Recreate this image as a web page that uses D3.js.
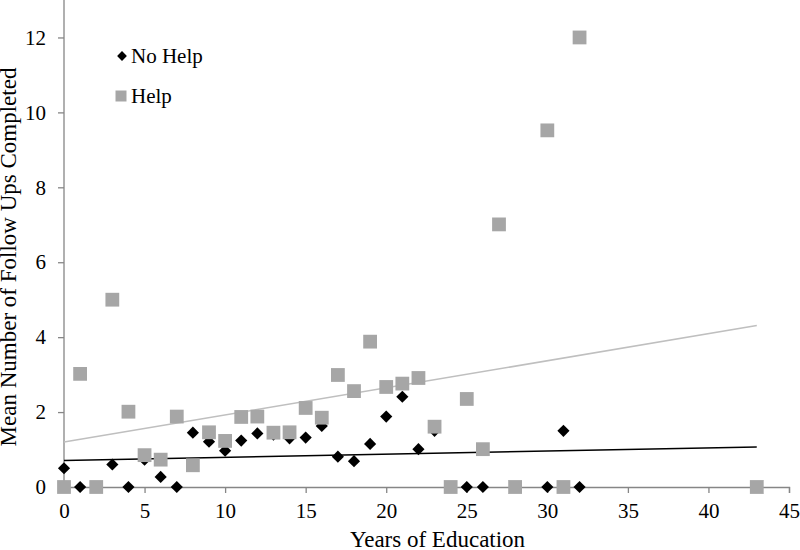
<!DOCTYPE html>
<html>
<head>
<meta charset="utf-8">
<script src="https://cdn.jsdelivr.net/npm/d3@7"></script>
<style>
  html, body { margin: 0; padding: 0; background: #fff; }
  svg text { font-family: "Liberation Serif", "Times New Roman", serif; fill: #000; }
</style>
</head>
<body>
<svg id="chart" width="800" height="550"></svg>
<script>
// ---- data ----
const noHelpYears = [0, 1, 3, 4, 5, 6, 7, 8, 9, 10, 11, 12, 13, 14, 15, 16, 17, 18, 19, 20, 21, 22, 23, 25, 26, 30, 31, 32];
const noHelpValues = [0.5, 0, 0.6, 0, 0.73, 0.27, 0, 1.45, 1.21, 0.97, 1.24, 1.43, 1.4, 1.3, 1.32, 1.63, 0.81, 0.69, 1.15, 1.88, 2.41, 1.01, 1.5, 0, 0, 0, 1.5, 0];

const helpYears = [0, 1, 2, 3, 4, 5, 6, 7, 8, 9, 10, 11, 12, 13, 14, 15, 16, 17, 18, 19, 20, 21, 22, 23, 24, 25, 26, 27, 28, 30, 31, 32, 43];
const helpValues = [0, 3.02, 0, 5, 2.01, 0.85, 0.73, 1.88, 0.58, 1.46, 1.23, 1.87, 1.88, 1.45, 1.46, 2.11, 1.85, 2.99, 2.56, 3.88, 2.67, 2.76, 2.91, 1.61, 0, 2.35, 1.01, 7.01, 0, 9.52, 0, 12, 0];

const trendYears = [0, 43];
const noHelpTrend = [0.71, 1.07];
const helpTrend = [1.2, 4.31];

const xTicks = [0, 5, 10, 15, 20, 25, 30, 35, 40, 45];
const yTicks = [0, 2, 4, 6, 8, 10, 12];
const seriesNames = ["No Help", "Help"];
const xTitle = "Years of Education";
const yTitle = "Mean Number of Follow Ups Completed";

// ---- layout ----
const svg = d3.select("#chart");
const mLeft = 64, mRight = 789, mBottom = 487, mTop = 0;
const x = d3.scaleLinear().domain([0, 45]).range([mLeft, mRight]);
const y = d3.scaleLinear().domain([0, 13]).range([mBottom, mTop]);

const axisColor = "#868686";
const fontSize = 21;

// x axis
const gx = svg.append("g").attr("transform", `translate(0,${mBottom})`)
  .call(d3.axisBottom(x).tickValues(xTicks).tickSize(6).tickPadding(10).tickFormat(d3.format("d")));
gx.attr("font-family", null);
gx.select(".domain").attr("stroke", axisColor).attr("stroke-width", 1.3);
gx.selectAll(".tick line").attr("stroke", axisColor).attr("stroke-width", 1.3);
gx.selectAll(".tick text").attr("font-size", fontSize).style("font-family", "Liberation Serif");

// y axis
const gy = svg.append("g").attr("transform", `translate(${mLeft},0)`)
  .call(d3.axisLeft(y).tickValues(yTicks).tickSize(6).tickPadding(12).tickFormat(d3.format("d")));
gy.attr("font-family", null);
gy.select(".domain").attr("stroke", axisColor).attr("stroke-width", 1.3).attr("d", `M0,${mBottom}V${mTop}`);
gy.selectAll(".tick line").attr("stroke", axisColor).attr("stroke-width", 1.3);
gy.selectAll(".tick text").attr("font-size", fontSize).style("font-family", "Liberation Serif");

// axis titles
svg.append("text").attr("x", (mLeft + mRight) / 2 + 11).attr("y", 547)
  .attr("text-anchor", "middle").attr("font-size", 23).text(xTitle);
svg.append("text").attr("transform", `translate(16,${257}) rotate(-90)`)
  .attr("text-anchor", "middle").attr("font-size", 23).text(yTitle);

// trend lines
const line = d3.line().x(d => x(d[0])).y(d => y(d[1]));
svg.append("path").datum(trendYears.map((t, i) => [t, helpTrend[i]]))
  .attr("d", line).attr("fill", "none").attr("stroke", "#BFBFBF").attr("stroke-width", 1.5);
svg.append("path").datum(trendYears.map((t, i) => [t, noHelpTrend[i]]))
  .attr("d", line).attr("fill", "none").attr("stroke", "#000").attr("stroke-width", 1.5);

// markers
const diamond = d3.symbol().type(d3.symbolSquare).size(74);
const square = d3.symbol().type(d3.symbolSquare).size(190);

svg.append("g").selectAll("path")
  .data(noHelpYears.map((t, i) => [t, noHelpValues[i]]))
  .join("path")
  .attr("d", diamond)
  .attr("transform", d => `translate(${x(d[0])},${y(d[1])}) rotate(45)`)
  .attr("fill", "#000");

svg.append("g").selectAll("path")
  .data(helpYears.map((t, i) => [t, helpValues[i]]))
  .join("path")
  .attr("d", square)
  .attr("transform", d => `translate(${x(d[0])},${y(d[1])})`)
  .attr("fill", "#A6A6A6");

// legend
const legend = svg.append("g");
legend.append("path").attr("d", d3.symbol().type(d3.symbolSquare).size(48))
  .attr("transform", "translate(122,56) rotate(45)").attr("fill", "#000");
legend.append("text").attr("x", 131).attr("y", 63).attr("font-size", 21).text(seriesNames[0]);
legend.append("path").attr("d", d3.symbol().type(d3.symbolSquare).size(121))
  .attr("transform", "translate(121,96)").attr("fill", "#A6A6A6");
legend.append("text").attr("x", 131).attr("y", 103).attr("font-size", 21).text(seriesNames[1]);
</script>
</body>
</html>
